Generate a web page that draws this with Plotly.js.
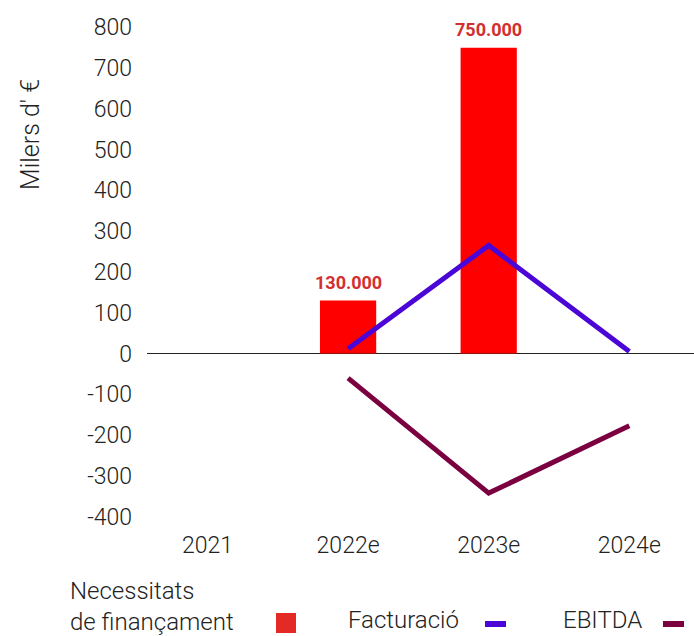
<!DOCTYPE html>
<html>
<head>
<meta charset="utf-8">
<script src="https://cdn.plot.ly/plotly-3.0.1.min.js"></script>
<style>
  html, body { margin: 0; padding: 0; background: #fff; }
  #chart { width: 694px; height: 636px; }
</style>
</head>
<body>
<div id="chart"></div>
<script>
// Categories and series (thousands of euros)
const years = ['2021', '2022e', '2023e', '2024e'];
const financing = [null, 130, 750, null];   // Necessitats de finançament
const revenue = [null, 12, 265, 5];         // Facturació
const ebitda = [null, -60, -342, -177];     // EBITDA
const seriesNames = ['Necessitats<br>de finançament', 'Facturació', 'EBITDA'];
const yTickValues = [-400, -300, -200, -100, 0, 100, 200, 300, 400, 500, 600, 700, 800];
const yTickLabels = ['-400', '-300', '-200', '-100', '0', '100', '200', '300', '400', '500', '600', '700', '800'];
const yTitle = "Milers d' €";

const colors = { bar: '#ff0000', barLabel: '#d32f2f', legendBar: '#e32a25', revenue: '#4a06d6', ebitda: '#7a0040', text: '#222222' };
const FONT = 'Roboto, "Open Sans", sans-serif';

// Plot-area geometry in pixels, used to place the hand-built legend
const W = 694, H = 636;
const M = { l: 147, r: 0, t: 15, b: 107 };
const plotW = W - M.l - M.r, plotH = H - M.t - M.b;
const px = x => (x - M.l) / plotW;
const py = y => (H - M.b - y) / plotH;

// Thousand-separated euro amount, e.g. 130 -> "130.000"
const fmtEuros = v => String(Math.round(v * 1000)).replace(/\B(?=(\d{3})+(?!\d))/g, '.');

const traces = [
  {
    type: 'bar', x: years, y: financing, name: seriesNames[0],
    marker: { color: colors.bar }, width: 0.4, hoverinfo: 'skip'
  },
  {
    type: 'scatter', mode: 'lines', x: years, y: revenue, name: seriesNames[1],
    line: { color: colors.revenue, width: 5 }, connectgaps: false, hoverinfo: 'skip'
  },
  {
    type: 'scatter', mode: 'lines', x: years, y: ebitda, name: seriesNames[2],
    line: { color: colors.ebitda, width: 5 }, connectgaps: false, hoverinfo: 'skip'
  }
];

const annotations = [];

// Value labels above the bars
financing.forEach((v, i) => {
  if (v === null) return;
  annotations.push({
    x: years[i], y: v, xref: 'x', yref: 'y',
    text: '<b>' + fmtEuros(v) + '</b>', showarrow: false,
    yanchor: 'bottom', yshift: 6,
    font: { family: FONT, size: 18, color: colors.barLabel, weight: 700 }
  });
});

// Vertical axis title
annotations.push({
  xref: 'paper', yref: 'paper', x: px(31), y: py(135),
  text: yTitle, textangle: -90, showarrow: false,
  xanchor: 'center', yanchor: 'middle',
  font: { family: FONT, size: 25, color: colors.text, weight: 300 }
});

// Legend text entries (symbols drawn as shapes to their right)
const legendFont = { family: FONT, size: 24, color: colors.text, weight: 300 };
annotations.push({
  xref: 'paper', yref: 'paper', x: px(68), y: py(606),
  text: seriesNames[0], align: 'left', showarrow: false,
  xanchor: 'left', yanchor: 'middle', font: legendFont
});
annotations.push({
  xref: 'paper', yref: 'paper', x: px(346), y: py(620),
  text: seriesNames[1], showarrow: false,
  xanchor: 'left', yanchor: 'middle', font: legendFont
});
annotations.push({
  xref: 'paper', yref: 'paper', x: px(561), y: py(620),
  text: seriesNames[2], showarrow: false,
  xanchor: 'left', yanchor: 'middle', font: legendFont
});

const shapes = [
  { type: 'rect', xref: 'paper', yref: 'paper', x0: px(276), x1: px(296), y0: py(633), y1: py(613),
    fillcolor: colors.legendBar, line: { width: 0 } },
  { type: 'rect', xref: 'paper', yref: 'paper', x0: px(485), x1: px(506), y0: py(627), y1: py(621),
    fillcolor: colors.revenue, line: { width: 0 } },
  { type: 'rect', xref: 'paper', yref: 'paper', x0: px(663), x1: px(684), y0: py(627), y1: py(621),
    fillcolor: colors.ebitda, line: { width: 0 } }
];

const layout = {
  width: W, height: H,
  margin: M,
  paper_bgcolor: '#ffffff', plot_bgcolor: '#ffffff',
  showlegend: false,
  hovermode: false,
  font: { family: FONT, color: colors.text, weight: 300 },
  xaxis: {
    type: 'category', range: [-0.43, 3.46],
    showgrid: false, showline: false, zeroline: false, ticks: '',
    tickfont: { family: FONT, size: 23, color: colors.text, weight: 300 },
    ticklabelstandoff: 0, fixedrange: true
  },
  yaxis: {
    range: [-430, 830], tickvals: yTickValues, ticktext: yTickLabels,
    showgrid: false, showline: false, ticks: '',
    zeroline: true, zerolinecolor: '#222222', zerolinewidth: 1.5,
    tickfont: { family: FONT, size: 23, color: colors.text, weight: 300 },
    ticklabelstandoff: 14, fixedrange: true
  },
  annotations: annotations,
  shapes: shapes
};

Plotly.newPlot('chart', traces, layout, { displayModeBar: false, staticPlot: true });
</script>
</body>
</html>
